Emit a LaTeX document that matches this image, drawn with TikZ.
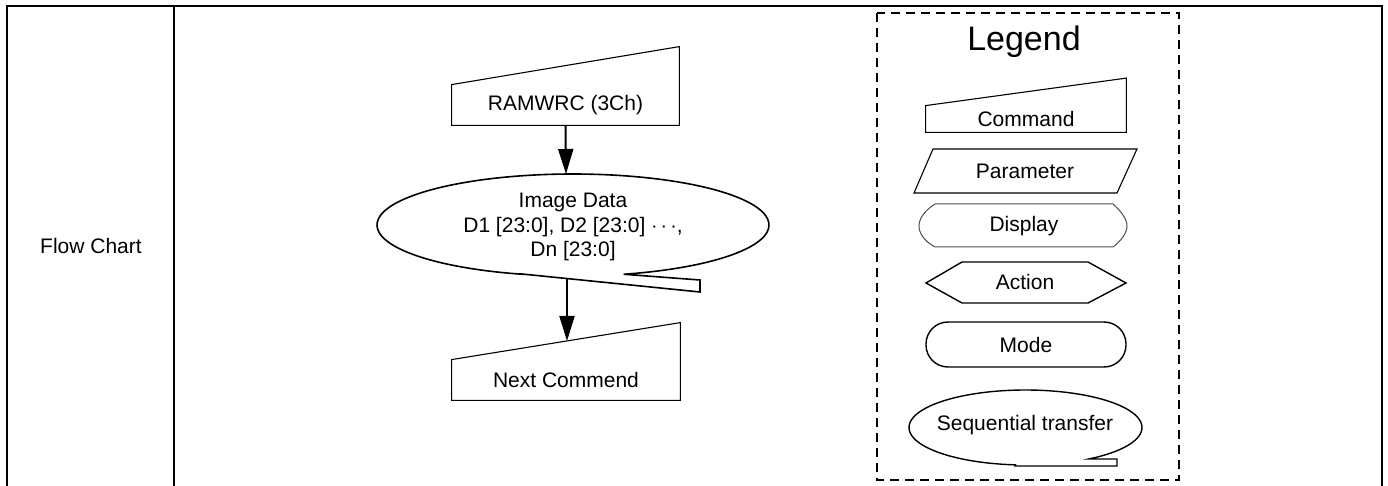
\documentclass[tikz,border=0pt]{standalone}
\usepackage{fontspec}
\setmainfont{Liberation Sans}
\usetikzlibrary{arrows.meta,positioning}

\begin{document}
\begin{tikzpicture}[
  x=0.5pt,y=-0.5pt,
  lbl/.style={font=\fontsize{10.5}{10.8}\selectfont,align=center,inner sep=0pt},
  cmdbox/.style={lbl,minimum width=#1,minimum height=20pt},
  outline/.style={draw=black,line width=0.55pt},
  frame/.style={line width=1pt},
  legendbox/.style={line width=1pt,dash pattern=on 4.5pt off 3pt},
  arrow/.style={-{Triangle[length=12.5pt,width=7.5pt]},line width=1pt}
]
\useasboundingbox (0,0) rectangle (1388,486);

% table cell
\draw[frame] (7,486) -- (7,6) -- (1382,6) -- (1382,486);
\draw[frame] (174,6) -- (174,486);
\node[lbl] (rowname) at (91,246) {Flow Chart};

% flow
\node[cmdbox=113.5pt] (ramwrc) at (565.5,105) {RAMWRC (3Ch)};
\draw[outline] (ramwrc.north west) -- (ramwrc.south west) -- (ramwrc.south east)
  -- ([yshift=19pt]ramwrc.north east) -- cycle;

\node[lbl] (imgdata) at (573,227)
  {Image Data\\[1.6pt]D1 [23:0], D2 [23:0] $\cdots$,\\[1.6pt]Dn [23:0]};
\draw[outline,line width=0.8pt] (700,292) -- (522,274)
  -- plot[domain=105:435,samples=90,smooth] ({573+196*cos(\x)},{225+51*sin(\x)})
  -- (700,280) -- cycle;
\coordinate (img-top) at (566,174);
\coordinate (img-bot) at (567,278);

\node[cmdbox=114pt] (next) at (566,380) {Next Commend};
\draw[outline] (next.north west) -- (next.south west) -- (next.south east)
  -- ([yshift=18.5pt]next.north east) -- cycle;
\coordinate (next-in) at (567,341);

\draw[arrow] (ramwrc.south) -- (img-top);
\draw[arrow] (img-bot) -- (next-in);

% legend
\draw[legendbox] (877,13) rectangle (1179,480);
\node[lbl,font=\fontsize{17}{20}\selectfont] (legend) at (1024,42) {Legend};

\node[lbl,minimum width=100pt,minimum height=12.5pt] (lcmd) at (1026,119) {Command};
\draw[outline] ([yshift=0.25pt]lcmd.north west) -- ([yshift=-0.25pt]lcmd.south west) -- ([yshift=-0.25pt]lcmd.south east)
  -- ([yshift=14pt]lcmd.north east) -- cycle;

\node[lbl] (lpar) at (1025,171) {Parameter};
\draw[outline] (933,149) -- (1137,149) -- (1117,193) -- (914,193) -- cycle;

\node[lbl] (ldisp) at (1024,226) {Display};
\draw[draw=black!70,line width=0.5pt] (935,204) -- (1113,204)
  .. controls (1121,211) and (1127,219) .. (1127,226)
  .. controls (1127,233) and (1121,241) .. (1113,247) -- (935,247)
  .. controls (924,241) and (919,233) .. (919,226)
  .. controls (919,219) and (924,211) .. (935,204);

\node[lbl] (lact) at (1025,282) {Action};
\draw[outline,line width=0.7pt] (926,283) -- (962,262) -- (1088,262) -- (1126,283)
  -- (1088,303) -- (962,303) -- cycle;

\node[lbl,draw,line width=0.7pt,rounded corners=11pt,minimum width=100pt,
  minimum height=22.5pt] (lmode) at (1026,344.5) {Mode};

\node[lbl] (lseq) at (1025,425) {Sequential transfer};
\draw[outline,line width=0.7pt] (1117,466) -- (1015,466)
  -- plot[domain=95:417,samples=90,smooth] ({1025.5+116.5*cos(\x)},{427.5+37.5*sin(\x)})
  -- (1117,459) -- cycle;
\end{tikzpicture}
\end{document}
